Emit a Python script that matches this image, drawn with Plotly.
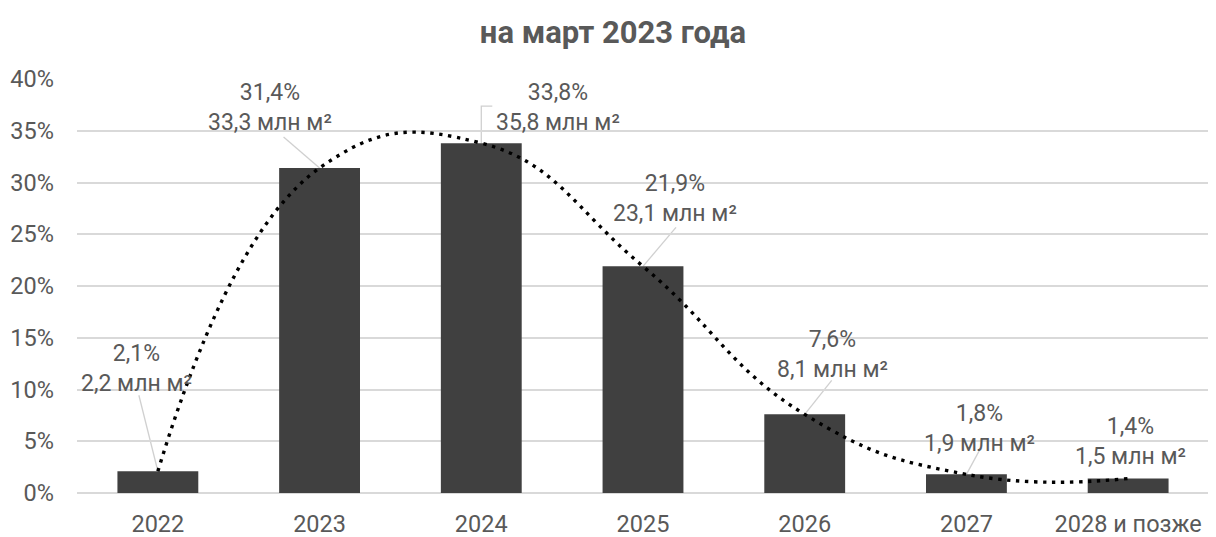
import plotly.graph_objects as go

# ---- data ----
categories = ["2022", "2023", "2024", "2025", "2026", "2027", "2028 и позже"]
share_pct = [2.1, 31.4, 33.8, 21.9, 7.6, 1.8, 1.4]
share_labels = ["2,1%", "31,4%", "33,8%", "21,9%", "7,6%", "1,8%", "1,4%"]
area_labels = ["2,2 млн м²", "33,3 млн м²", "35,8 млн м²", "23,1 млн м²",
               "8,1 млн м²", "1,9 млн м²", "1,5 млн м²"]
y_ticks = [0, 5, 10, 15, 20, 25, 30, 35, 40]
y_tick_text = [f"{t}%" for t in y_ticks]
title_text = "на март 2023 года"

# ---- styling / label placement (pixel offsets from bar tops) ----
FONT = "Roboto"
TXT = "#595959"
BAR = "#404040"
GRID = "#d9d9d9"
LEADER = "#d0d0d0"
label_shift = [(-21, 103), (-50, 61), (77, 36), (32, 68), (28, 60), (13, 46), (2, 37)]
leader_paths = [
    "M 0,0 L -19,76",
    "M 0,0 L -36,31",
    "M 0,0 L 0,37 L 11,37",
    "M 0,0 L 33,39",
    "M 0,0 L 27,34",
    "M 0,0 L 13,24",
    None,
]

fig = go.Figure()
fig.add_trace(go.Bar(
    x=categories, y=share_pct, marker=dict(color=BAR, line=dict(width=0)),
    hoverinfo="skip", showlegend=False,
))
fig.add_trace(go.Scatter(
    x=categories, y=share_pct, mode="lines",
    line=dict(color="black", width=3.4, dash="3.4px,5.6px", shape="spline", smoothing=1.3),
    hoverinfo="skip", showlegend=False,
))

annotations = []
shapes = []
for i, cat in enumerate(categories):
    dx, dy = label_shift[i]
    annotations.append(dict(
        x=i, y=share_pct[i], xref="x", yref="y",
        text=f"{share_labels[i]}<br>{area_labels[i]}",
        showarrow=False, xanchor="center", yanchor="middle",
        xshift=dx, yshift=dy, font=dict(family=FONT, size=23, color=TXT),
    ))
    if leader_paths[i]:
        shapes.append(dict(
            type="path", xref="x", yref="y", xsizemode="pixel", ysizemode="pixel",
            xanchor=i, yanchor=share_pct[i], path=leader_paths[i],
            line=dict(color=LEADER, width=1.3), layer="below",
        ))

fig.update_layout(
    width=1216, height=537,
    margin=dict(l=69, r=15, t=71, b=52),
    paper_bgcolor="white", plot_bgcolor="white",
    bargap=0.5,
    title=dict(text=f"<b>{title_text}</b>", xref="container", x=0.4975, xanchor="center",
               y=0.955, yanchor="middle", font=dict(family=FONT, size=31, color=TXT)),
    xaxis=dict(type="category", categoryorder="array", categoryarray=categories,
               range=[-0.5, len(categories) - 0.5], autorange=False, automargin=False,
               showgrid=False, showline=False, ticks="", ticklabelstandoff=14,
               tickfont=dict(family=FONT, size=23.5, color=TXT)),
    yaxis=dict(range=[0, 40], autorange=False, automargin=False,
               tickvals=y_ticks, ticktext=y_tick_text,
               showgrid=True, gridcolor=GRID, gridwidth=1.5, zeroline=True,
               zerolinecolor=GRID, zerolinewidth=1.5, showline=False,
               ticks="", ticklabelstandoff=22,
               tickfont=dict(family=FONT, size=23.5, color=TXT)),
    annotations=annotations, shapes=shapes,
)

fig.write_html("out.html")
